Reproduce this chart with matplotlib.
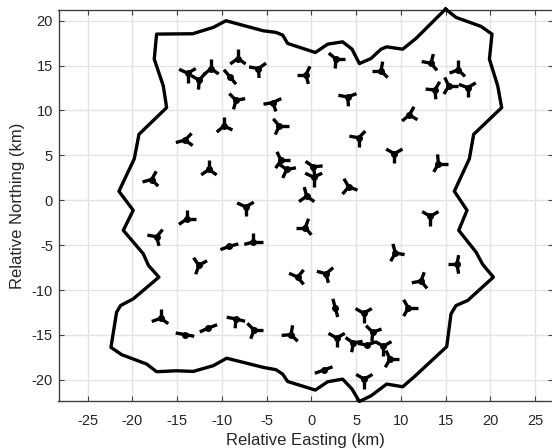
"""
Wind farm layout: site boundary and turbine rotors.
"""

import numpy as np
import matplotlib
matplotlib.use("Agg")
import matplotlib.pyplot as plt

plt.rcParams["font.family"] = ["Liberation Sans", "DejaVu Sans"]
plt.rcParams["axes.unicode_minus"] = False

# Site boundary (km)
boundary_x = [15.0, 16.17, 18.96, 20.19, 19.9, 20.83, 21.27, 18.14, 17.66, 15.98, 17.4,
              16.47, 18.4, 19.15, 20.34, 17.47, 16.17, 15.61, 15.13, 11.51, 10.21, 8.42,
              6.67, 5.37, 4.55, 3.5, 1.83, 0.45, -2.65, -3.2, -3.95, -5.37, -9.46, -10.95,
              -13.19, -15.05, -17.29, -18.4, -21.2, -22.39, -21.76, -21.31, -19.9, -17.03,
              -18.2, -18.78, -21.01, -19.9, -21.5, -19.78, -19.26, -16.17, -16.54, -17.55,
              -17.29, -13.26, -10.95, -9.54, -5.37, -3.95, -3.2, -2.65, 0.45, 1.83, 3.5,
              4.55, 5.37, 6.67, 7.79, 8.42, 10.21, 11.7, 15.0]
boundary_y = [21.3, 20.37, 19.37, 18.51, 15.72, 12.74, 10.32, 7.34, 4.62, 1.0, -1.12,
              -3.35, -5.77, -7.15, -8.57, -11.17, -11.73, -12.66, -16.31, -19.66, -20.78, -20.48,
              -21.79, -22.42, -21.04, -19.93, -20.22, -21.15, -20.19, -19.37, -18.88, -18.62, -17.6, -18.43,
              -19.07, -19.0, -19.1, -18.25, -17.2, -16.39, -12.48, -11.73, -10.99, -8.57,
              -7.26, -5.96, -3.35, -1.12, 1.0, 4.62, 7.34, 10.32, 12.74, 15.72,
              18.51, 18.55, 19.26, 20.0, 18.88, 18.7, 18.4, 17.47, 16.46, 17.39, 17.65,
              16.83, 15.23, 15.79, 16.83, 17.09, 16.83, 18.03, 21.3]

# Turbine hubs (km)
hub_x = [-13.82, -12.52, -11.21, -9.09, -8.2, -5.92, -8.42, -4.31, -9.76, -14.12, -11.44,
         -17.85, -7.34, -13.93, 2.76, -0.6, 7.79, 13.37, 16.43, 15.35, 13.82, 17.47, 4.06,
         10.95, -3.58, 5.29, 9.28, 14.2, -3.39, -2.75, 0.22, 0.26, 4.17, -0.52, 13.3, -0.67,
         9.39, 16.28, -1.53, 1.64, 12.26, 2.68, 5.85, 10.84, 6.86, -2.27, 2.83, 4.69, 6.22,
         8.05, 8.79, 1.38, 5.92, -17.29, -9.17, -6.48, -12.56, -16.84, -14.12, -11.51, -8.42,
         -6.41]
hub_y = [14.15, 13.37, 14.67, 13.74, 15.79, 14.67, 11.14, 10.88, 8.27, 6.7, 3.43,
         2.31, -0.74, -2.09, 15.72, 13.97, 14.41, 15.27, 14.53, 12.74, 12.29, 12.55, 11.51,
         9.5, 8.27, 6.96, 5.18, 4.06, 4.44, 3.43, 3.73, 2.57, 1.49, 0.45, -1.79, -3.05,
         -5.88, -7.15, -8.57, -8.19, -9.01, -12.0, -12.59, -12.0, -14.71, -14.97, -15.35, -15.9, -16.13,
         -16.27, -17.7, -18.92, -19.93, -4.07, -5.14, -4.65, -7.26, -13.15, -14.97, -14.23, -13.22,
         -14.45]

# Blade directions per turbine (degrees from +x)
blade_angles = [
    [155, 30, 270], [150, 50, 265], [90, 220, 325], [130, 310], [90, 215, 325], [170, 35, 275],
    [135, 10, 255], [190, 25, 290], [90, 335, 220], [195, 45, 325], [90, 215, 325],
    [60, 195, 315], [155, 30, 270], [90, 0, 215], [140, 0, 265], [65, 180, 285], [80, 180, 315],
    [75, 170, 310], [90, 200, 315], [115, 0, 240], [60, 175, 275], [160, 30, 270], [170, 20, 275],
    [60, 220, 330], [130, 0, 245], [45, 170, 270], [150, 30, 270], [95, 0, 240], [115, 0, 235],
    [145, 10, 245], [145, 5, 280], [155, 25, 270], [120, 340, 230], [105, 215, 325], [150, 30, 270],
    [180, 70, 310], [105, 350, 240], [180, 80, 280], [155, 50, 310], [165, 40, 285], [70, 190, 310],
    [105, 285], [150, 30, 270], [120, 0, 240], [135, 20, 265], [80, 185, 315], [150, 30, 270],
    [145, 10, 260], [170, 20], [150, 30, 270], [115, 0, 240], [20, 200], [150, 30, 270],
    [170, 50, 285], [200, 15], [90, 195, 0], [125, 30, 250], [90, 200, 325], [170, 350],
    [205, 20], [170, 345, 265], [135, 0, 250],
]
blade_len = 1.05

x_ticks = [-25, -20, -15, -10, -5, 0, 5, 10, 15, 20, 25]
y_ticks = [-20, -15, -10, -5, 0, 5, 10, 15, 20]

fig = plt.figure(figsize=(5.52, 4.48), dpi=100)
ax = fig.add_axes([58.5 / 552, 1 - 401.3 / 448, (552.5 - 58.5) / 552, (401.3 - 10.5) / 448])

ax.plot(boundary_x, boundary_y, color="k", lw=2.4, solid_joinstyle="round", clip_on=False, zorder=3)

for hx, hy, angles in zip(hub_x, hub_y, blade_angles):
    for a in angles:
        ax.plot([hx, hx + blade_len * np.cos(np.radians(a))],
                [hy, hy + blade_len * np.sin(np.radians(a))],
                color="k", lw=2.4, solid_capstyle="butt", zorder=4)
ax.plot(hub_x, hub_y, "o", color="k", ms=5, mew=0, zorder=5)

ax.set_xlim(-28.25, 26.95)
ax.set_ylim(-22.4, 21.14)
ax.set_xticks(x_ticks)
ax.set_yticks(y_ticks)
ax.grid(True, color="#e4e4e4", lw=1.0)
ax.set_axisbelow(True)
ax.tick_params(direction="in", length=3.6, width=0.8, color="#404040", labelcolor="#262626",
               labelsize=10.5, top=True, right=True, pad=9)
ax.tick_params(axis="y", pad=4)
for spine in ax.spines.values():
    spine.set_color("#404040")
    spine.set_linewidth(1.0)
ax.set_xlabel("Relative Easting (km)", fontsize=12, color="#262626", labelpad=4)
ax.set_ylabel("Relative Northing (km)", fontsize=12, color="#262626", labelpad=4.5)

fig.savefig("out.png", dpi=100)
